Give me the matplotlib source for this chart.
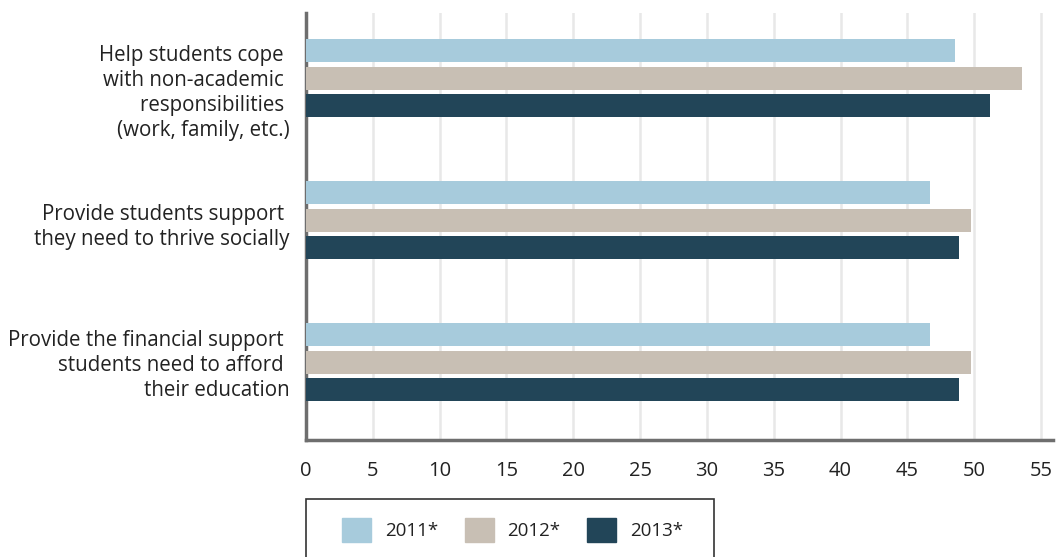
import matplotlib.pyplot as plt
from matplotlib.patches import Patch, Rectangle
import numpy as np

# survey items and share of respondents per year
categories = ["Help students cope \nwith non-academic \nresponsibilities \n(work, family, etc.)",
              "Provide students support \nthey need to thrive socially",
              "Provide the financial support \nstudents need to afford \ntheir education"]
years = ["2011*", "2012*", "2013*"]
vals_2011 = [48.6, 46.7, 46.7]
vals_2012 = [53.6, 49.8, 49.8]
vals_2013 = [51.2, 48.9, 48.9]
colors = ["#A7CBDC", "#C8BFB4", "#224558"]

plt.rcParams['font.family'] = ['Open Sans', 'DejaVu Sans']

fig = plt.figure(figsize=(10.61, 5.57), dpi=100)
ax = fig.add_axes([306 / 1061, 1 - 440 / 557, 747 / 1061, 427 / 557])

y = np.arange(len(categories))
h = 0.162
step = 0.194
for k, (vals, c) in enumerate(zip([vals_2011, vals_2012, vals_2013], colors)):
    ax.barh(y + (k - 1) * step, vals, height=h, color=c, zorder=3)

ax.set_xlim(0, 55.9)
ax.set_ylim(2.549, -0.458)
ax.set_xticks(range(0, 60, 5))
ax.tick_params(axis='x', length=0, pad=15, labelsize=14.5, labelcolor='#222222')
ax.tick_params(axis='y', length=0, pad=12, labelsize=14.8, labelcolor='#222222')
ax.set_yticks(y + np.array([0.075, 0.014, -0.006]))
ax.set_yticklabels(categories, ha='right', multialignment='right', linespacing=1.25)
ax.grid(axis='x', color='#E8E8E8', linewidth=1.8, zorder=0)

for s in ['top', 'right']:
    ax.spines[s].set_visible(False)
for s in ['left', 'bottom']:
    ax.spines[s].set_color('#6E6E6E')
    ax.spines[s].set_linewidth(2.5)

# legend box, runs off the bottom edge
fig.patches.append(Rectangle((306 / 1061, -0.05), 408 / 1061, 1 - 499 / 557 + 0.05,
                             transform=fig.transFigure, fill=False,
                             edgecolor='#333333', linewidth=1.2))
handles = [Patch(color=c) for c in colors]
fig.legend(handles, years, loc='center left', bbox_to_anchor=(325 / 1061, 1 - 530 / 557),
           ncol=3, frameon=False, fontsize=13.5, handlelength=1.55, handleheight=1.55,
           handletextpad=0.75, columnspacing=1.4, labelcolor='#222222')

fig.savefig("out.png", dpi=100)
